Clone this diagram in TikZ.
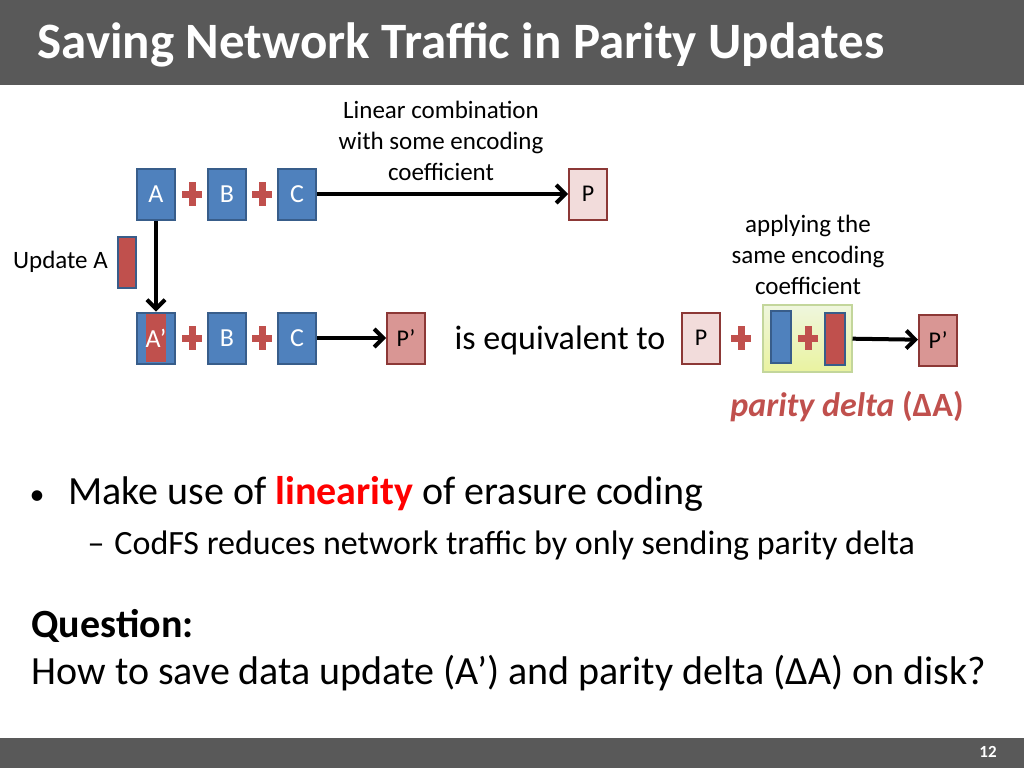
\documentclass[tikz,border=0pt]{standalone}
\usepackage{fontspec}
\setmainfont{Carlito}
\usetikzlibrary{arrows.meta}
\definecolor{barGray}{HTML}{595959}
\definecolor{blk}{HTML}{4F81BD}
\definecolor{blkEdge}{HTML}{385D8A}
\definecolor{redBar}{HTML}{C0504D}
\definecolor{redEdge}{HTML}{8C3836}
\definecolor{pLight}{HTML}{F2DCDB}
\definecolor{pDark}{HTML}{D99694}
\definecolor{grnFill}{HTML}{E4F0C8}
\definecolor{grnEdge}{HTML}{C3D69B}
\newcommand{\fs}[1]{\fontsize{#1}{#1}\selectfont}
\newcommand{\fsl}[2]{\fontsize{#1}{#2}\selectfont}
\tikzset{
  blue box/.style={draw=blkEdge, line width=2pt, fill=blk, minimum width=38pt, minimum height=51pt, text=white, font=\fs{26}, inner sep=0pt},
  par box/.style={draw=redEdge, line width=2pt, fill=#1, minimum width=38pt, minimum height=51pt, font=\fs{24}, inner sep=0pt},
  plusred/.style={redBar, line width=7pt},
  arr/.style={-{Straight Barb[length=9pt,width=18pt]}, line width=4pt}
}
\newcommand{\plus}[2]{\draw[plusred] (#1-10,#2) -- (#1+10,#2) (#1,#2-12) -- (#1,#2+12);}
\begin{document}
\begin{tikzpicture}[x=1pt,y=-1pt]
\useasboundingbox (0,0) rectangle (1024,768);
% bars
\fill[barGray] (0,0) rectangle (1024,85);
\fill[barGray] (0,738) rectangle (1024,768);
\node[anchor=west, text=white, font=\fs{51}\bfseries] (title) at (34,45) {Saving Network Traffic in Parity Updates};
\node[text=white, font=\fs{17}\bfseries] (page) at (988,752) {12};
% top row
\node[blue box] (a) at (156,194) {A};
\node[blue box] (b) at (227,194) {B};
\node[blue box] (c) at (297,194) {C};
\plus{192}{194}
\plus{262}{194}
\node[par box=pLight] (p) at (588,194) {P};
\draw[arr] (c) -- (p);
\node[align=center, font=\fsl{25}{31}] (lin) at (441,141) {Linear combination\\with some encoding\\coefficient};
% update
\node[anchor=east, inner sep=0pt, font=\fs{25}] (upd) at (108,262) {Update A};
\node[draw=blkEdge, line width=2pt, fill=redBar, minimum width=18pt, minimum height=51pt, inner sep=0pt] (ubar) at (127,262) {};
% second row
\node[blue box] (a2) at (156,338) {};
\node[fill=redBar, minimum width=16pt, minimum height=48pt, inner sep=0pt, text=white, font=\fs{26}] (a2r) at (156,338) {A’};
\node[blue box] (b2) at (227,338) {B};
\node[blue box] (c2) at (297,338) {C};
\plus{192}{338}
\plus{262}{338}
\node[par box=pDark] (p2) at (406,338) {P’};
\draw[arr] (c2) -- (p2);
\draw[arr] (a) -- (a2);
\node[font=\fs{34}] (eq) at (560,340) {is equivalent to};
% right side
\node[par box=pLight] (p3) at (701,338) {P};
\plus{741}{338}
\node[draw=grnEdge, line width=2pt, top color=grnFill!60!white, bottom color=grnFill!80!yellow, minimum width=89pt, minimum height=67pt] (delta) at (807,338) {};
\node[draw=blkEdge, line width=2pt, fill=blk, minimum width=20pt, minimum height=52pt, inner sep=0pt] (dblue) at (781,337) {};
\node[draw=blkEdge, line width=2pt, fill=redBar, minimum width=20pt, minimum height=52pt, inner sep=0pt] (dred) at (835,339) {};
\plus{808}{338}
\node[par box=pDark] (p4) at (938,340) {P’};
\draw[arr] (delta) -- (p4);
\node[align=center, font=\fsl{25}{31}] (apply) at (808,255) {applying the\\same encoding\\coefficient};
\node[text=redBar, font=\fs{34}\bfseries] (pd) at (847,407) {\textit{parity delta} (∆A)};
% bullets
\node[anchor=west, font=\fs{40}] (b1) at (26,494) {{\fs{30}•}\hspace{24pt}Make use of \textbf{\textcolor{red}{linearity}} of erasure coding};
\node[anchor=west, font=\fs{34}] (b2t) at (84,546) {–\hspace{10pt}CodFS reduces network traffic by only sending parity delta};
\node[anchor=west, font=\fs{40}\bfseries] (q) at (28,626) {Question:};
\node[anchor=west, font=\fs{40}] (qt) at (28,673) {How to save data update (A’) and parity delta (∆A) on disk?};
\end{tikzpicture}
\end{document}
